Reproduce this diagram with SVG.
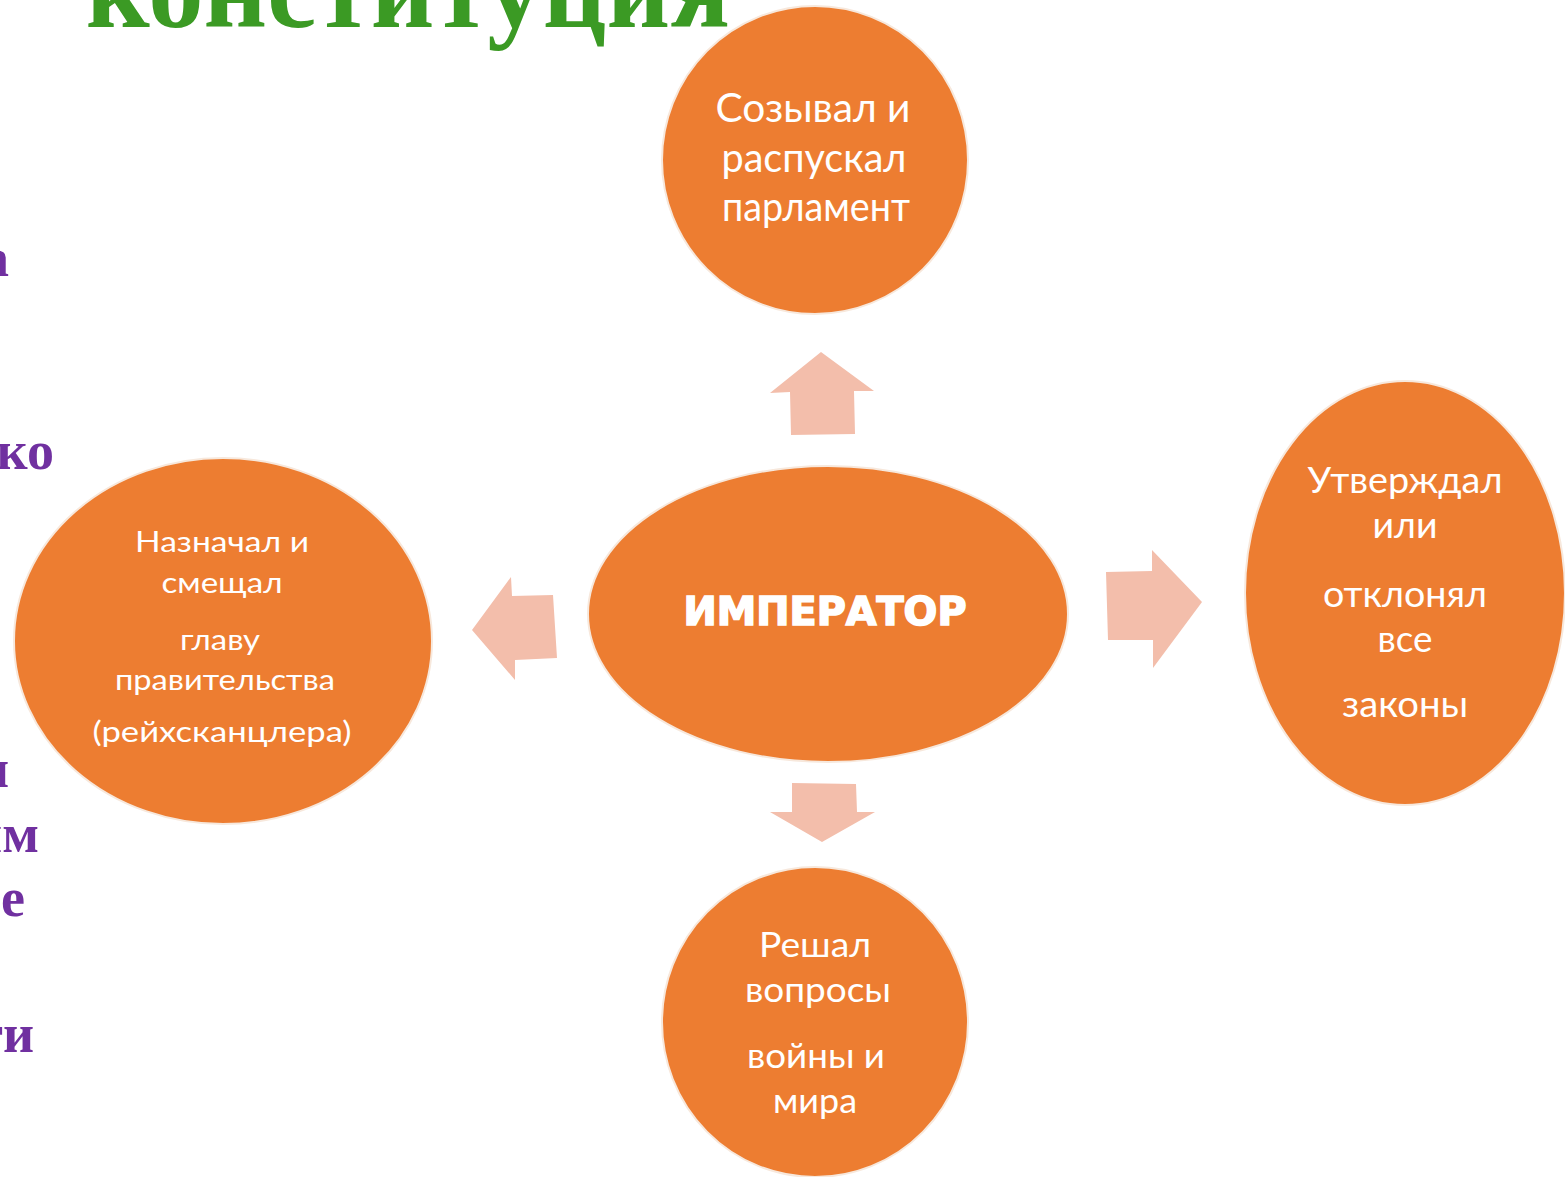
<svg xmlns="http://www.w3.org/2000/svg" width="1565" height="1177" viewBox="0 0 1565 1177">
<style>
.bg{fill:#ffffff}
.node{fill:#ED7D31;stroke:#f7e8dc;stroke-width:2}
.arrow{fill:#F3BEAB}
.lbl{font-family:Lato,"Open Sans","Noto Sans",sans-serif;fill:#ffffff;text-anchor:middle}
.side{font-family:"Liberation Serif","Times New Roman",serif;font-weight:bold;fill:#7030A0;font-size:54px;text-anchor:end}
.title{font-family:"Liberation Serif","Times New Roman",serif;font-weight:bold;fill:#3B9A24;font-size:112px}
</style>
<rect class="bg" x="0" y="0" width="1565" height="1177"/>
<g id="background-text">
<text class="title" x="86" y="27" textLength="644" lengthAdjust="spacingAndGlyphs">конституция</text>
<text class="side" x="9" y="276">а</text>
<text class="side" x="54" y="469">ко</text>
<text class="side" x="9" y="787">и</text>
<text class="side" x="39" y="852">им</text>
<text class="side" x="25" y="916">е</text>
<text class="side" x="34" y="1052">ти</text>
</g>
<g id="connectors">
<polygon class="arrow" points="821,352 874,391 854,391 855,434 791,435 790,392 770,393"/>
<polygon class="arrow" points="472,630 511,577 512,596 553,595 557,658 515,660 515,680"/>
<polygon class="arrow" points="792,783 856,784 857,812 875,812 822,842 770,812 792,812"/>
<polygon class="arrow" points="1106,572 1152,571 1152,550 1202,602 1153,668 1153,640 1108,640"/>
</g>
<g id="node-top">
<ellipse class="node" cx="815" cy="160" rx="153" ry="154"/>
<text class="lbl" x="813" y="122" font-size="40" textLength="195" lengthAdjust="spacingAndGlyphs">Созывал и</text>
<text class="lbl" x="814" y="172" font-size="40" textLength="185" lengthAdjust="spacingAndGlyphs">распускал</text>
<text class="lbl" x="816" y="221" font-size="40" textLength="188" lengthAdjust="spacingAndGlyphs">парламент</text>
</g>
<g id="node-center">
<ellipse class="node" cx="828" cy="614" rx="240" ry="148"/>
<text x="825" y="625" font-family="'DejaVu Sans','Liberation Sans',sans-serif" font-weight="bold" font-size="39" fill="#ffffff" stroke="#ffffff" stroke-width="1.6" text-anchor="middle" textLength="283" lengthAdjust="spacingAndGlyphs">ИМПЕРАТОР</text>
</g>
<g id="node-left">
<ellipse class="node" cx="223" cy="641" rx="209" ry="183"/>
<text class="lbl" x="222" y="552" font-size="29" textLength="174" lengthAdjust="spacingAndGlyphs">Назначал и</text>
<text class="lbl" x="222" y="593" font-size="29" textLength="121" lengthAdjust="spacingAndGlyphs">смещал</text>
<text class="lbl" x="220" y="650" font-size="29" textLength="80" lengthAdjust="spacingAndGlyphs">главу</text>
<text class="lbl" x="225" y="690" font-size="29" textLength="220" lengthAdjust="spacingAndGlyphs">правительства</text>
<text class="lbl" x="222" y="742" font-size="29" textLength="259" lengthAdjust="spacingAndGlyphs">(рейхсканцлера)</text>
</g>
<g id="node-right">
<ellipse class="node" cx="1405" cy="593" rx="160" ry="212"/>
<text class="lbl" x="1405" y="493" font-size="36" textLength="195" lengthAdjust="spacingAndGlyphs">Утверждал</text>
<text class="lbl" x="1405" y="538" font-size="36" textLength="65" lengthAdjust="spacingAndGlyphs">или</text>
<text class="lbl" x="1405" y="607" font-size="36" textLength="164" lengthAdjust="spacingAndGlyphs">отклонял</text>
<text class="lbl" x="1405" y="652" font-size="36" textLength="55" lengthAdjust="spacingAndGlyphs">все</text>
<text class="lbl" x="1405" y="717" font-size="36" textLength="126" lengthAdjust="spacingAndGlyphs">законы</text>
</g>
<g id="node-bottom">
<ellipse class="node" cx="815" cy="1022" rx="153" ry="155"/>
<text class="lbl" x="815" y="957" font-size="35" textLength="112" lengthAdjust="spacingAndGlyphs">Решал</text>
<text class="lbl" x="818" y="1002" font-size="35" textLength="146" lengthAdjust="spacingAndGlyphs">вопросы</text>
<text class="lbl" x="816" y="1068" font-size="35" textLength="138" lengthAdjust="spacingAndGlyphs">войны и</text>
<text class="lbl" x="815" y="1113" font-size="35" textLength="84" lengthAdjust="spacingAndGlyphs">мира</text>
</g>
</svg>
